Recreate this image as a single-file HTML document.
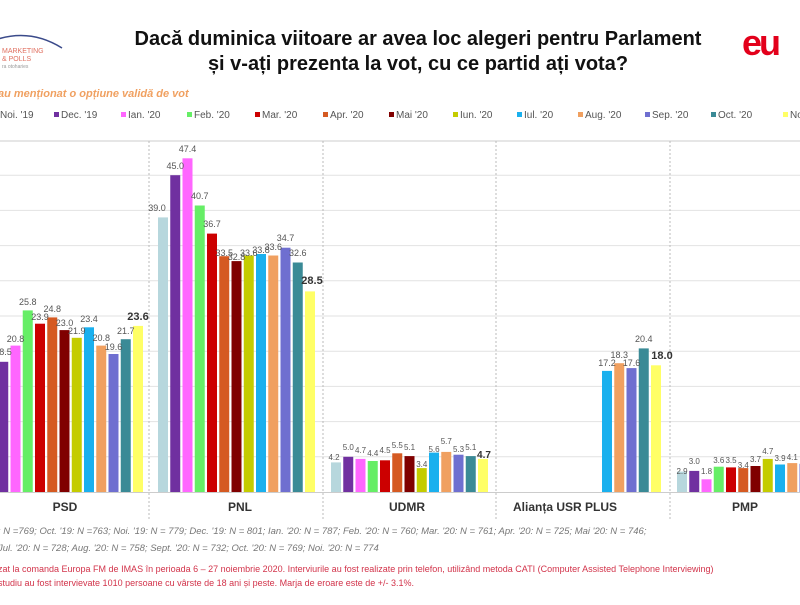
<!DOCTYPE html>
<html><head><meta charset="utf-8"><style>
body{margin:0;background:#fff;width:800px;height:600px;overflow:hidden;font-family:"Liberation Sans",sans-serif}
</style></head><body>
<svg width="800" height="600" xmlns="http://www.w3.org/2000/svg" font-family="Liberation Sans, sans-serif">
<rect width="800" height="600" fill="#fff"/>
<!-- logo -->
<path d="M-5 40 Q30 28 62 48" stroke="#3a4a8a" stroke-width="1.5" fill="none"/>
<text x="2" y="53" font-size="7" fill="#e07060">MARKETING</text>
<text x="2" y="61" font-size="7" fill="#e07060">&amp; POLLS</text>
<text x="2" y="68" font-size="5" fill="#999">ra otoharies</text>
<text x="760" y="55" font-size="36" font-weight="bold" fill="#e3001b" text-anchor="middle" letter-spacing="-3">eu</text>
<!-- title -->
<text x="418" y="45" font-size="20" font-weight="bold" fill="#111" text-anchor="middle">Dacă duminica viitoare ar avea loc alegeri pentru Parlament</text>
<text x="418" y="70" font-size="20" font-weight="bold" fill="#111" text-anchor="middle">și v-ați prezenta la vot, cu ce partid ați vota?</text>
<text x="-2" y="97" font-size="11" font-style="italic" font-weight="bold" fill="#f0a060">au menționat o opțiune validă de vot</text>
<!-- legend -->
<g font-size="10" fill="#555">
<rect x="-12" y="112" width="5" height="5" fill="#b7d7dd"/><text x="0" y="118">Noi. '19</text>
<rect x="54" y="112" width="5" height="5" fill="#7030a0"/><text x="61" y="118">Dec. '19</text>
<rect x="121" y="112" width="5" height="5" fill="#ff66ff"/><text x="128" y="118">Ian. '20</text>
<rect x="187" y="112" width="5" height="5" fill="#66ee66"/><text x="194" y="118">Feb. '20</text>
<rect x="255" y="112" width="5" height="5" fill="#cc0000"/><text x="262" y="118">Mar. '20</text>
<rect x="323" y="112" width="5" height="5" fill="#d55a22"/><text x="330" y="118">Apr. '20</text>
<rect x="389" y="112" width="5" height="5" fill="#800000"/><text x="396" y="118">Mai '20</text>
<rect x="453" y="112" width="5" height="5" fill="#c4cc00"/><text x="460" y="118">Iun. '20</text>
<rect x="517" y="112" width="5" height="5" fill="#1ab0ee"/><text x="524" y="118">Iul. '20</text>
<rect x="578" y="112" width="5" height="5" fill="#f0a060"/><text x="585" y="118">Aug. '20</text>
<rect x="645" y="112" width="5" height="5" fill="#6f6fd0"/><text x="652" y="118">Sep. '20</text>
<rect x="711" y="112" width="5" height="5" fill="#3a8a96"/><text x="718" y="118">Oct. '20</text>
<rect x="783" y="112" width="5" height="5" fill="#ffff66"/><text x="790" y="118">Noi. '20</text>
</g>
<!-- grid -->
<g stroke="#e2e2e2" stroke-width="1">
<line x1="0" x2="800" y1="456.8" y2="456.8"/><line x1="0" x2="800" y1="421.6" y2="421.6"/>
<line x1="0" x2="800" y1="386.4" y2="386.4"/><line x1="0" x2="800" y1="351.2" y2="351.2"/>
<line x1="0" x2="800" y1="316" y2="316"/><line x1="0" x2="800" y1="280.8" y2="280.8"/>
<line x1="0" x2="800" y1="245.6" y2="245.6"/><line x1="0" x2="800" y1="210.4" y2="210.4"/>
<line x1="0" x2="800" y1="175.2" y2="175.2"/>
</g>
<line x1="0" x2="800" y1="141" y2="141" stroke="#ccc"/>
<line x1="0" x2="800" y1="492.5" y2="492.5" stroke="#ccc"/>
<g stroke="#bbb" stroke-dasharray="2,2">
<line x1="149" x2="149" y1="141" y2="520"/><line x1="323" x2="323" y1="141" y2="520"/>
<line x1="496" x2="496" y1="141" y2="520"/><line x1="670" x2="670" y1="141" y2="520"/>
</g>
<!-- PSD -->
<g>
<rect x="-14" y="372.3" width="10" height="119.7" fill="#b7d7dd"/>
<rect x="-1.75" y="361.8" width="10" height="130.2" fill="#7030a0"/>
<rect x="10.5" y="345.6" width="10" height="146.4" fill="#ff66ff"/>
<rect x="22.75" y="310.4" width="10" height="181.6" fill="#66ee66"/>
<rect x="35" y="323.7" width="10" height="168.3" fill="#cc0000"/>
<rect x="47.25" y="317.4" width="10" height="174.6" fill="#d55a22"/>
<rect x="59.5" y="330.1" width="10" height="161.9" fill="#800000"/>
<rect x="71.75" y="337.8" width="10" height="154.2" fill="#c4cc00"/>
<rect x="84" y="327.3" width="10" height="164.7" fill="#1ab0ee"/>
<rect x="96.25" y="345.6" width="10" height="146.4" fill="#f0a060"/>
<rect x="108.5" y="354" width="10" height="138" fill="#6f6fd0"/>
<rect x="120.75" y="339.2" width="10" height="152.8" fill="#3a8a96"/>
<rect x="133" y="325.9" width="10" height="166.1" fill="#ffff66"/>
</g>
<g font-size="9" fill="#555" text-anchor="middle">
<text x="3" y="355">18.5</text><text x="15.5" y="342">20.8</text><text x="27.75" y="305">25.8</text>
<text x="40" y="320">23.9</text><text x="52.25" y="312">24.8</text><text x="64.5" y="326">23.0</text>
<text x="76.75" y="334">21.9</text><text x="89" y="322">23.4</text><text x="101.25" y="341">20.8</text>
<text x="113.5" y="350">19.6</text><text x="125.75" y="334">21.7</text>
<text x="138" y="320" font-size="11" font-weight="bold" fill="#333">23.6</text>
</g>
<!-- PNL -->
<g>
<rect x="158" y="217.4" width="10" height="274.6" fill="#b7d7dd"/>
<rect x="170.25" y="175.2" width="10" height="316.8" fill="#7030a0"/>
<rect x="182.5" y="158.3" width="10" height="333.7" fill="#ff66ff"/>
<rect x="194.75" y="205.5" width="10" height="286.5" fill="#66ee66"/>
<rect x="207" y="233.6" width="10" height="258.4" fill="#cc0000"/>
<rect x="219.25" y="256.2" width="10" height="235.8" fill="#d55a22"/>
<rect x="231.5" y="261.1" width="10" height="230.9" fill="#800000"/>
<rect x="243.75" y="255.5" width="10" height="236.5" fill="#c4cc00"/>
<rect x="256" y="254" width="10" height="238" fill="#1ab0ee"/>
<rect x="268.25" y="255.5" width="10" height="236.5" fill="#f0a060"/>
<rect x="280.5" y="247.7" width="10" height="244.3" fill="#6f6fd0"/>
<rect x="292.75" y="262.5" width="10" height="229.5" fill="#3a8a96"/>
<rect x="305" y="291.4" width="10" height="200.6" fill="#ffff66"/>
</g>
<g font-size="9" fill="#555" text-anchor="middle">
<text x="157" y="211">39.0</text><text x="175.25" y="169">45.0</text><text x="187.5" y="152">47.4</text>
<text x="199.75" y="199">40.7</text><text x="212" y="227">36.7</text><text x="224.25" y="256">33.5</text>
<text x="236.5" y="260">32.8</text><text x="248.75" y="256">33.6</text><text x="261" y="253">33.8</text>
<text x="273.25" y="250">33.6</text><text x="285.5" y="241">34.7</text><text x="297.75" y="256">32.6</text>
<text x="312" y="284" font-size="11" font-weight="bold" fill="#333">28.5</text>
</g>
<!-- UDMR -->
<g>
<rect x="331" y="462.4" width="10" height="29.6" fill="#b7d7dd"/>
<rect x="343.25" y="456.8" width="10" height="35.2" fill="#7030a0"/>
<rect x="355.5" y="458.9" width="10" height="33.1" fill="#ff66ff"/>
<rect x="367.75" y="461" width="10" height="31" fill="#66ee66"/>
<rect x="380" y="460.3" width="10" height="31.7" fill="#cc0000"/>
<rect x="392.25" y="453.3" width="10" height="38.7" fill="#d55a22"/>
<rect x="404.5" y="456.1" width="10" height="35.9" fill="#800000"/>
<rect x="416.75" y="468.1" width="10" height="23.9" fill="#c4cc00"/>
<rect x="429" y="452.6" width="10" height="39.4" fill="#1ab0ee"/>
<rect x="441.25" y="451.9" width="10" height="40.1" fill="#f0a060"/>
<rect x="453.5" y="454.7" width="10" height="37.3" fill="#6f6fd0"/>
<rect x="465.75" y="456.1" width="10" height="35.9" fill="#3a8a96"/>
<rect x="478" y="458.9" width="10" height="33.1" fill="#ffff66"/>
</g>
<g font-size="8" fill="#555" text-anchor="middle">
<text x="334" y="460">4.2</text><text x="348.25" y="450">5.0</text><text x="360.5" y="453">4.7</text>
<text x="372.75" y="456">4.4</text><text x="385" y="453">4.5</text><text x="397.25" y="448">5.5</text>
<text x="409.5" y="450">5.1</text><text x="421.75" y="467">3.4</text><text x="434" y="452">5.6</text>
<text x="446.25" y="444">5.7</text><text x="458.5" y="452">5.3</text><text x="470.75" y="450">5.1</text>
<text x="484" y="458" font-size="10" font-weight="bold" fill="#333">4.7</text>
</g>
<!-- Alianta -->
<g>
<rect x="602" y="370.9" width="10" height="121.1" fill="#1ab0ee"/>
<rect x="614.25" y="363.2" width="10" height="128.8" fill="#f0a060"/>
<rect x="626.5" y="368.1" width="10" height="123.9" fill="#6f6fd0"/>
<rect x="638.75" y="348.4" width="10" height="143.6" fill="#3a8a96"/>
<rect x="651" y="365.3" width="10" height="126.7" fill="#ffff66"/>
</g>
<g font-size="9" fill="#555" text-anchor="middle">
<text x="607" y="366">17.2</text><text x="619.25" y="358">18.3</text><text x="631.5" y="366">17.6</text>
<text x="643.75" y="342">20.4</text><text x="662" y="359" font-size="11" font-weight="bold" fill="#333">18.0</text>
</g>
<!-- PMP -->
<g>
<rect x="677" y="471.6" width="10" height="20.4" fill="#b7d7dd"/>
<rect x="689.25" y="470.9" width="10" height="21.1" fill="#7030a0"/>
<rect x="701.5" y="479.3" width="10" height="12.7" fill="#ff66ff"/>
<rect x="713.75" y="466.7" width="10" height="25.3" fill="#66ee66"/>
<rect x="726" y="467.4" width="10" height="24.6" fill="#cc0000"/>
<rect x="738.25" y="468.1" width="10" height="23.9" fill="#d55a22"/>
<rect x="750.5" y="466" width="10" height="26" fill="#800000"/>
<rect x="762.75" y="458.9" width="10" height="33.1" fill="#c4cc00"/>
<rect x="775" y="464.5" width="10" height="27.5" fill="#1ab0ee"/>
<rect x="787.25" y="463.1" width="10" height="28.9" fill="#f0a060"/>
<rect x="799.5" y="463.8" width="10" height="28.2" fill="#6f6fd0"/>
</g>
<g font-size="8" fill="#555" text-anchor="middle">
<text x="682" y="474">2.9</text><text x="694.25" y="464">3.0</text><text x="706.5" y="474">1.8</text>
<text x="718.75" y="463">3.6</text><text x="731" y="463">3.5</text><text x="743.25" y="468">3.4</text>
<text x="755.5" y="462">3.7</text><text x="767.75" y="454">4.7</text><text x="780" y="461">3.9</text>
<text x="792.25" y="460">4.1</text>
</g>
<!-- categories -->
<g font-size="12" font-weight="bold" fill="#333" text-anchor="middle">
<text x="65" y="511">PSD</text><text x="240" y="511">PNL</text><text x="407" y="511">UDMR</text>
<text x="565" y="511">Alianța USR PLUS</text><text x="745" y="511">PMP</text>
</g>
<g font-size="9.5" font-style="italic" fill="#777">
<text x="-2" y="534">: N =769; Oct. '19: N =763; Noi. '19: N = 779; Dec. '19: N = 801; Ian. '20: N = 787; Feb. '20: N = 760; Mar. '20: N = 761; Apr. '20: N = 725; Mai '20: N = 746;</text>
<text x="-2" y="551">Jul. '20: N = 728; Aug. '20: N = 758; Sept. '20: N = 732; Oct. '20: N = 769; Noi. '20: N = 774</text>
</g>
<g font-size="9" fill="#d2334a">
<text x="-2" y="572">zat la comanda Europa FM de IMAS în perioada  6 – 27 noiembrie 2020. Interviurile au fost realizate prin telefon, utilizând metoda CATI (Computer Assisted Telephone Interviewing)</text>
<text x="-2" y="586">studiu au fost intervievate 1010 persoane cu vârste de 18 ani și peste. Marja de eroare este de +/- 3.1%.</text>
</g>
</svg>
</body></html>
